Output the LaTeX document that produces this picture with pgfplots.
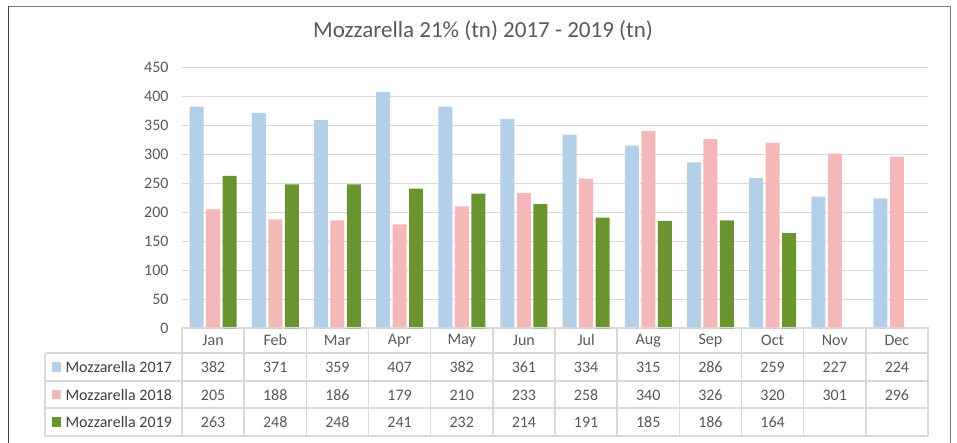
\documentclass[border=0pt]{standalone}
\usepackage{pgfplots}
\pgfplotsset{compat=1.18}
\usepackage{fontspec}
\setmainfont{Carlito}
\definecolor{c17}{HTML}{B4D0E8}
\definecolor{c18}{HTML}{F5B8B8}
\definecolor{c19}{HTML}{6A9430}
\definecolor{gridc}{HTML}{D9D9D9}
\definecolor{txt}{HTML}{595959}
\definecolor{txtd}{HTML}{404040}
\begin{document}
\begin{tikzpicture}[x=1pt,y=1pt]
\useasboundingbox (0,0) rectangle (957,443);
\begin{axis}[at={(182pt,114.7pt)}, anchor=south west, scale only axis,
  width=746pt, height=261pt, xmin=-0.5, xmax=11.5, ymin=0, ymax=450,
  ytick={0,50,...,450}, xtick=\empty, ymajorgrids,
  grid style={gridc, line width=1.2pt}, axis line style={draw=none},
  major tick length=0pt, ybar=2.5pt, bar width=14pt,
  /pgf/number format/assume math mode=true,
  yticklabel style={font=\fontsize{16}{19}\selectfont, text=txt, xshift=-10pt},
  clip=false]
\addplot[fill=c17, draw=none] coordinates {(0,382) (1,371) (2,359) (3,407) (4,382) (5,361) (6,334) (7,315) (8,286) (9,259) (10,227) (11,224)};
\addplot[fill=c18, draw=none] coordinates {(0,205) (1,188) (2,186) (3,179) (4,210) (5,233) (6,258) (7,340) (8,326) (9,320) (10,301) (11,296)};
\addplot[fill=c19, draw=none] coordinates {(0,263) (1,248) (2,248) (3,241) (4,232) (5,214) (6,191) (7,185) (8,186) (9,164)};
\end{axis}
\begin{scope}[yshift=443pt, y=-1pt, every node/.style={font=\fontsize{16}{19}\selectfont, text=txt}]
% border
\draw[gray, line width=1.5pt] (8.5,6.5) -- (950.7,6.5) -- (950.7,450);
\draw[txtd, line width=1.5pt] (8.5,450) -- (8.5,6.5);
% title
\node[font=\fontsize{23}{27}\selectfont] at (483,31) {Mozzarella 21\% (tn) 2017 - 2019 (tn)};
% table grid
\draw[gridc, line width=1.5pt] (182,327.5) -- (928,327.5);
\foreach \yy in {353,381,408,436} \draw[gridc, line width=1.5pt] (45,\yy) -- (928,\yy);
\draw[gridc, line width=1.5pt] (45,353) -- (45,436);
\foreach \k in {0,...,12} \draw[gridc, line width=1.5pt] ({182+\k*62.1667},327.5) -- ({182+\k*62.1667},436);
% header
\foreach \m [count=\i from 0] in {Jan,Feb,Mar,Apr,May,Jun,Jul,Aug,Sep,Oct,Nov,Dec}
  \node at ({213.08+\i*62.1667},340.5) {\m};
\foreach \v [count=\i from 0] in {382,371,359,407,382,361,334,315,286,259,227,224}
  \node at ({213.08+\i*62.1667},367.5) {\v};
\foreach \v [count=\i from 0] in {205,188,186,179,210,233,258,340,326,320,301,296}
  \node at ({213.08+\i*62.1667},395) {\v};
\foreach \v [count=\i from 0] in {263,248,248,241,232,214,191,185,186,164}
  \node at ({213.08+\i*62.1667},422.5) {\v};
% legend keys
\fill[c17] (51.5,362.5) rectangle +(9.5,9.5);
\fill[c18] (51.5,390) rectangle +(9.5,9.5);
\fill[c19] (51.5,417.5) rectangle +(9.5,9.5);
\node[anchor=west, text=txtd] at (62,367.5) {Mozzarella 2017};
\node[anchor=west, text=txtd] at (62,395) {Mozzarella 2018};
\node[anchor=west, text=txtd] at (62,422.5) {Mozzarella 2019};
\end{scope}
\end{tikzpicture}
\end{document}
